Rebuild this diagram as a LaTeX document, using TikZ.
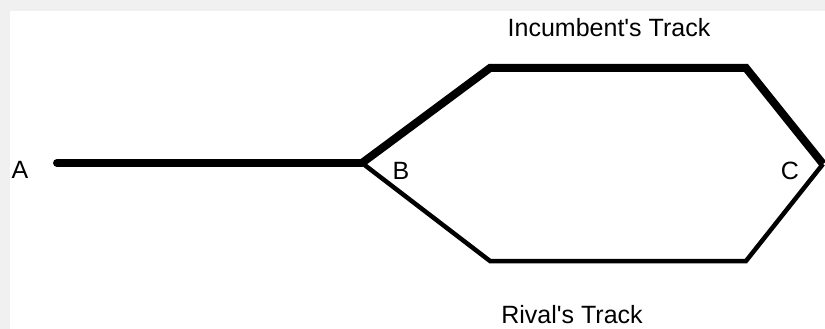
\documentclass[tikz,border=0pt]{standalone}
\usepackage{fontspec}
\setmainfont{Liberation Sans}
\definecolor{framegray}{HTML}{F0F0F0}
\begin{document}
\begin{tikzpicture}[x=1pt,y=-1pt,
  track/.style={black, line join=miter},
  thick track/.style={track, line width=8pt},
  thin track/.style={track, line width=4.5pt},
  lbl/.style={font=\fontsize{25}{29}\selectfont, inner sep=0pt, anchor=base}]
  % page background with a light frame on the top and left
  \fill[framegray] (0,0) rectangle (825,329);
  \fill[white] (10,11) rectangle (825,329);
  \useasboundingbox (0,0) rectangle (825,329);

  % track points
  \coordinate (a)  at (57,163);
  \coordinate (b)  at (362,163);
  \coordinate (u1) at (490,68);
  \coordinate (u2) at (746,68);
  \coordinate (c)  at (823,164);
  \coordinate (l1) at (490,261);
  \coordinate (l2) at (746,261);

  % common stretch, incumbent's track (thick) and rival's track (thin)
  \draw[thick track, line cap=round] (a) -- (b);
  \draw[thick track] (b) -- (u1) -- (u2) -- (c);
  \draw[thin track] (c) -- (l2) -- (l1) -- (b);

  % labels
  \node[lbl] (la) at (20,178) {A};
  \node[lbl] (lb) at (401,179) {B};
  \node[lbl] (lc) at (790,179) {C};
  \node[lbl] (inc) at (609,37) {Incumbent\textquotesingle s Track};
  \node[lbl] (riv) at (572,323) {Rival\textquotesingle s Track};
\end{tikzpicture}
\end{document}
